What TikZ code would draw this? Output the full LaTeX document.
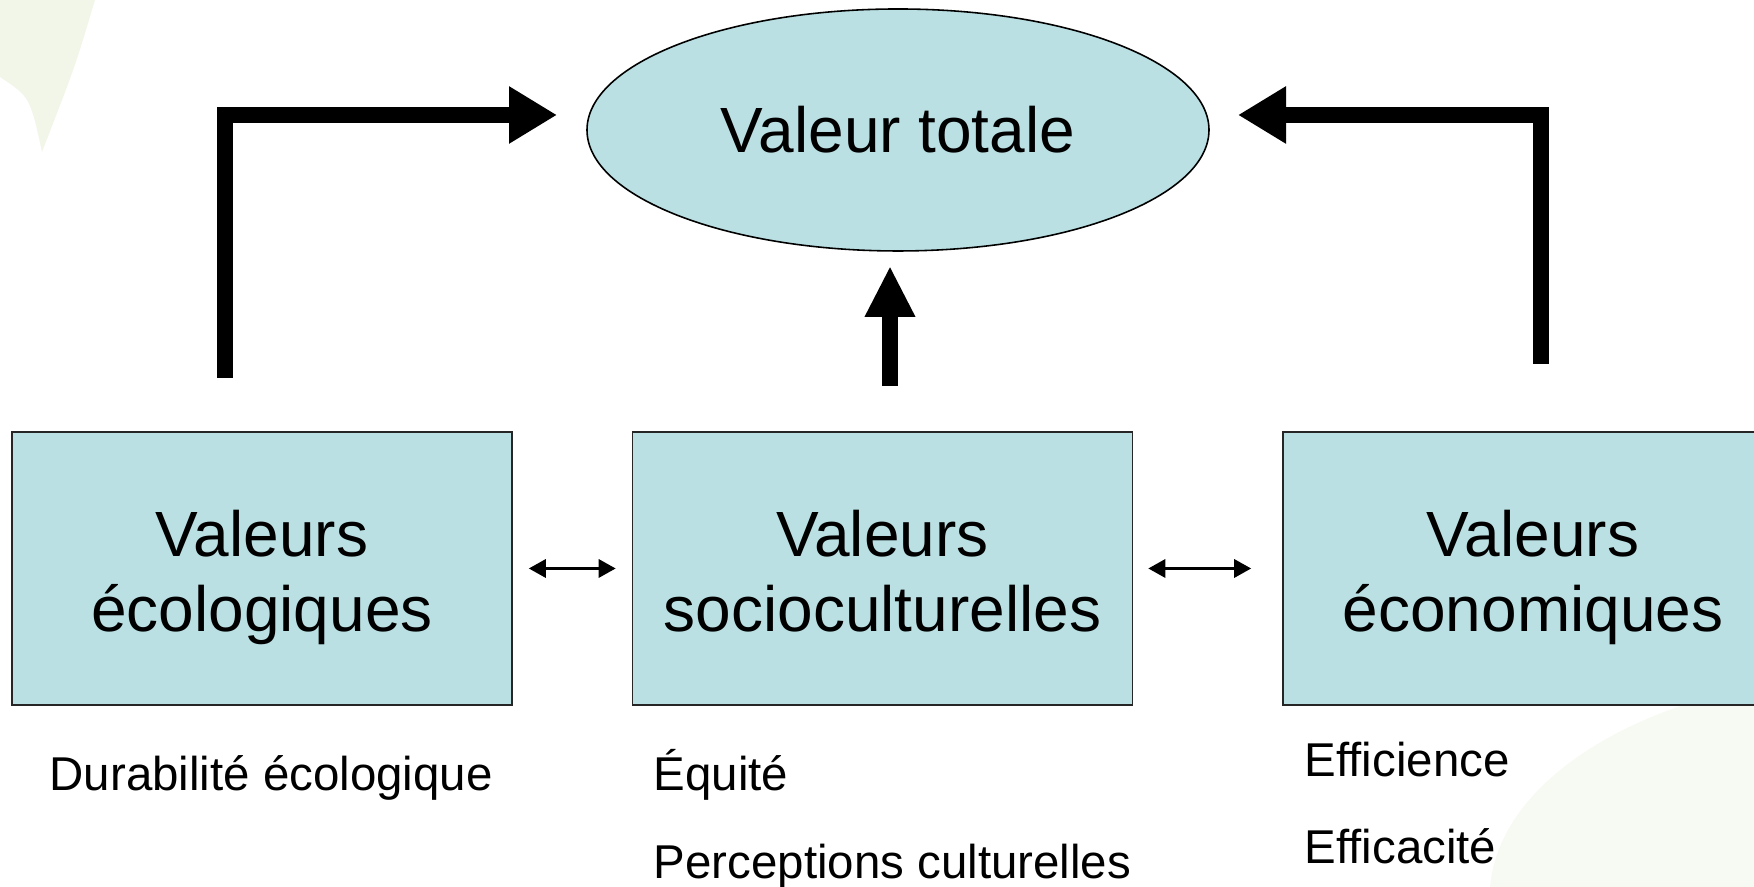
\documentclass[tikz,border=0pt]{standalone}
\usepackage{fontspec}
\setmainfont{Liberation Sans}
\usepackage{tikz}
\usetikzlibrary{calc}
\usetikzlibrary{shapes.geometric}
\usetikzlibrary{arrows.meta}

\definecolor{valfill}{RGB}{186,224,227}
\definecolor{leafgreen}{RGB}{242,246,233}

% two lines of a box, with the same height in every box
\newcommand{\twolines}[2]{\rule{0pt}{18.3pt}#1\\#2\rule[-3.8pt]{0pt}{3.8pt}}

\begin{document}
\begin{tikzpicture}[
    valbox/.style={draw=black!85, fill=valfill, line width=0.45pt,
        minimum width=5cm, minimum height=2.73cm, align=center,
        font=\fontsize{18.2}{21.6}\selectfont},
    bigarrow/.style={line width=4.5pt, line join=miter,
        -{Triangle[length=4.8mm,width=5.4mm]}},
    twoway/.style={line width=0.9pt,
        {Triangle[length=1.7mm,width=1.8mm]}-{Triangle[length=1.7mm,width=1.8mm]}},
    sublabel/.style={anchor=base west, inner sep=0pt,
        font=\fontsize{13.5}{16}\selectfont}
]
    \useasboundingbox (0,0) rectangle (17.54,8.87);
    \clip (0,0) rectangle (17.54,8.87);

    % Faint leaves in the corners
    \fill[leafgreen] (0,8.87) -- (0.95,8.87) .. controls (0.75,8.2) .. (0.42,7.35)
        .. controls (0.3,7.9) .. (0,8.1) -- cycle;
    \fill[leafgreen!60!white] (14.9,0) .. controls (15.0,1.1) and (16.4,1.8) .. (17.54,2.0)
        -- (17.54,0) -- cycle;

    % Total value
    \node[ellipse, draw, fill=valfill, line width=0.45pt, inner sep=0pt,
        minimum width=6.22cm, minimum height=2.42cm,
        font=\fontsize{18.2}{21.6}\selectfont] (totale) at (8.98,7.57) {Valeur totale};

    % The three kinds of values
    \node[valbox] (eco) at (2.62,3.185) {\twolines{Valeurs}{écologiques}};
    \node[valbox] (socio) at (8.825,3.185) {\twolines{Valeurs}{socioculturelles}};
    \node[valbox] (econ) at (15.33,3.185) {\twolines{Valeurs}{économiques}};

    % Feet and tips of the big arrows
    \coordinate (ecofoot) at (2.25,5.09);
    \coordinate (ecotip) at (5.57,7.72);
    \coordinate (sociofoot) at (8.90,5.01);
    \coordinate (sociotip) at (8.90,6.21);
    \coordinate (econfoot) at (15.41,5.23);
    \coordinate (econtip) at (12.38,7.72);

    % Big arrows up to the total value
    \draw[bigarrow] (ecofoot) |- (ecotip);
    \draw[bigarrow, -{Triangle[length=5.1mm,width=4.7mm]}] (sociofoot) -- (sociotip);
    \draw[bigarrow] (econfoot) |- (econtip);

    % Links between the boxes
    \draw[twoway, shorten <=1.6mm, shorten >=1.6mm] (eco.east) -- (socio.west);
    \draw[twoway, shorten <=1.5mm, shorten >=3.1mm] (socio.east) -- (econ.west);

    % Criteria under the boxes
    \node[sublabel] (durab) at (0.49,0.96) {Durabilité écologique};
    \node[sublabel] (equite) at (6.53,0.96) {Équité};
    \node[sublabel] (percep) at (6.53,0.08) {Perceptions culturelles};
    \node[sublabel] (effic) at (13.04,1.10) {Efficience};
    \node[sublabel] (effca) at (13.04,0.23) {Efficacité};
\end{tikzpicture}
\end{document}
